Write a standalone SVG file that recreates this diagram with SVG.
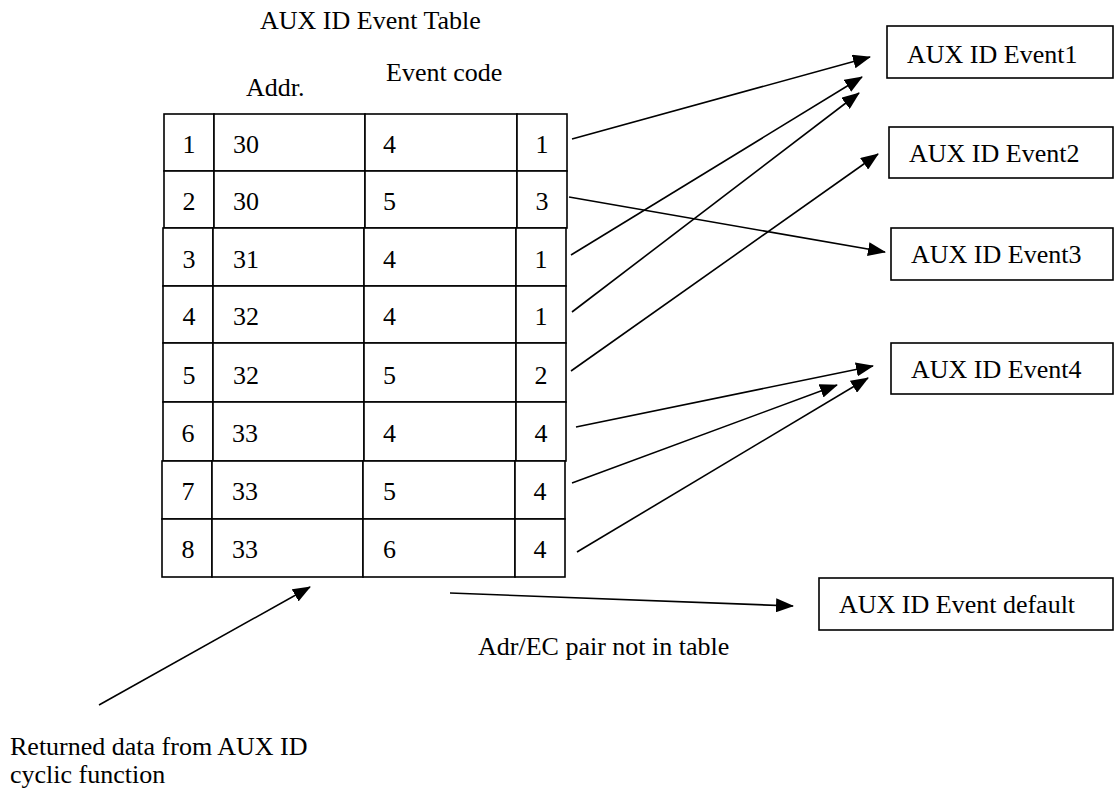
<svg xmlns="http://www.w3.org/2000/svg" width="1115" height="791" viewBox="0 0 1115 791" font-family="'Liberation Serif', 'DejaVu Serif', 'Times New Roman', serif">
  <style>
    text { font-family: 'Liberation Serif', 'DejaVu Serif', 'Times New Roman', serif; font-size: 26px; fill: #000; }
    .cell { fill: #fff; stroke: #000; stroke-width: 1.6; }
    .box { fill: #fff; stroke: #000; stroke-width: 1.6; }
    .mid { text-anchor: middle; }
    .conn line { stroke: #000; stroke-width: 1.6; marker-end: url(#head); }
  </style>
  <defs>
    <marker id="head" markerUnits="userSpaceOnUse" markerWidth="18" markerHeight="14" refX="17" refY="7" orient="auto">
      <path d="M0,0 L18,7 L0,14 Z" fill="#000"/>
    </marker>
  </defs>
  <rect width="1115" height="791" fill="#fff"/>

  <!-- table headings -->
  <g id="table-title">
    <text x="260" y="29">AUX ID Event Table</text>
  </g>
  <g id="col-headers">
    <text x="246" y="96">Addr.</text>
    <text x="386" y="81">Event code</text>
  </g>

  <!-- AUX ID event table: index, address, event code, event id -->
  <g id="event-table">
    <g id="row1">
      <rect class="cell" x="164" y="114" width="50" height="57"/>
      <rect class="cell" x="214" y="114" width="151" height="57"/>
      <rect class="cell" x="365" y="114" width="152" height="57"/>
      <rect class="cell" x="517" y="114" width="50" height="57"/>
      <text class="mid" x="189" y="153">1</text>
      <text x="233" y="153">30</text>
      <text x="383" y="153">4</text>
      <text class="mid" x="542" y="153">1</text>
    </g>
    <g id="row2">
      <rect class="cell" x="164" y="171" width="50" height="57"/>
      <rect class="cell" x="214" y="171" width="151" height="57"/>
      <rect class="cell" x="365" y="171" width="152" height="57"/>
      <rect class="cell" x="517" y="171" width="50" height="57"/>
      <text class="mid" x="189" y="210">2</text>
      <text x="233" y="210">30</text>
      <text x="383" y="210">5</text>
      <text class="mid" x="542" y="210">3</text>
    </g>
    <g id="row3">
      <rect class="cell" x="163" y="228" width="50" height="58"/>
      <rect class="cell" x="213" y="228" width="151" height="58"/>
      <rect class="cell" x="364" y="228" width="152" height="58"/>
      <rect class="cell" x="516" y="228" width="50" height="58"/>
      <text class="mid" x="189" y="268">3</text>
      <text x="233" y="268">31</text>
      <text x="383" y="268">4</text>
      <text class="mid" x="541" y="268">1</text>
    </g>
    <g id="row4">
      <rect class="cell" x="163" y="286" width="50" height="57"/>
      <rect class="cell" x="213" y="286" width="151" height="57"/>
      <rect class="cell" x="364" y="286" width="152" height="57"/>
      <rect class="cell" x="516" y="286" width="50" height="57"/>
      <text class="mid" x="189" y="325">4</text>
      <text x="233" y="325">32</text>
      <text x="383" y="325">4</text>
      <text class="mid" x="541" y="325">1</text>
    </g>
    <g id="row5">
      <rect class="cell" x="163" y="343" width="50" height="59"/>
      <rect class="cell" x="213" y="343" width="151" height="59"/>
      <rect class="cell" x="364" y="343" width="152" height="59"/>
      <rect class="cell" x="516" y="343" width="50" height="59"/>
      <text class="mid" x="189" y="384">5</text>
      <text x="233" y="384">32</text>
      <text x="383" y="384">5</text>
      <text class="mid" x="541" y="384">2</text>
    </g>
    <g id="row6">
      <rect class="cell" x="163" y="402" width="50" height="59"/>
      <rect class="cell" x="213" y="402" width="151" height="59"/>
      <rect class="cell" x="364" y="402" width="152" height="59"/>
      <rect class="cell" x="516" y="402" width="50" height="59"/>
      <text class="mid" x="188" y="442">6</text>
      <text x="232" y="442">33</text>
      <text x="383" y="442">4</text>
      <text class="mid" x="541" y="442">4</text>
    </g>
    <g id="row7">
      <rect class="cell" x="162" y="461" width="50" height="58"/>
      <rect class="cell" x="212" y="461" width="151" height="58"/>
      <rect class="cell" x="363" y="461" width="152" height="58"/>
      <rect class="cell" x="515" y="461" width="50" height="58"/>
      <text class="mid" x="188" y="500">7</text>
      <text x="232" y="500">33</text>
      <text x="383" y="500">5</text>
      <text class="mid" x="540" y="500">4</text>
    </g>
    <g id="row8">
      <rect class="cell" x="162" y="519" width="50" height="58"/>
      <rect class="cell" x="212" y="519" width="151" height="58"/>
      <rect class="cell" x="363" y="519" width="152" height="58"/>
      <rect class="cell" x="515" y="519" width="50" height="58"/>
      <text class="mid" x="188" y="558">8</text>
      <text x="232" y="558">33</text>
      <text x="383" y="558">6</text>
      <text class="mid" x="540" y="558">4</text>
    </g>
  </g>

  <!-- event boxes -->
  <g id="event1">
    <rect class="box" x="887" y="26" width="226" height="52"/>
    <text x="907" y="63">AUX ID Event1</text>
  </g>
  <g id="event2">
    <rect class="box" x="889" y="127" width="224" height="51"/>
    <text x="909" y="162">AUX ID Event2</text>
  </g>
  <g id="event3">
    <rect class="box" x="891" y="228" width="222" height="52"/>
    <text x="911" y="263">AUX ID Event3</text>
  </g>
  <g id="event4">
    <rect class="box" x="891" y="343" width="222" height="51"/>
    <text x="911" y="378">AUX ID Event4</text>
  </g>
  <g id="event-default">
    <rect class="box" x="819" y="578" width="294" height="52"/>
    <text x="839" y="613">AUX ID Event default</text>
  </g>

  <!-- free labels -->
  <g id="label-not-in-table">
    <text x="478" y="655">Adr/EC pair not in table</text>
  </g>
  <g id="label-returned-data">
    <text x="10" y="755">Returned data from AUX ID</text>
    <text x="10" y="783">cyclic function</text>
  </g>

  <!-- connectors -->
  <g id="connectors" class="conn">
    <line x1="572" y1="139" x2="870" y2="57"/>
    <line x1="571" y1="255" x2="862" y2="77"/>
    <line x1="572" y1="312" x2="859" y2="93"/>
    <line x1="571" y1="371" x2="878" y2="154"/>
    <line x1="569" y1="197" x2="885" y2="252"/>
    <line x1="576" y1="427" x2="873" y2="366"/>
    <line x1="572" y1="483" x2="837" y2="385"/>
    <line x1="577" y1="552" x2="868" y2="378"/>
    <line x1="450" y1="593" x2="793" y2="606"/>
    <line x1="99" y1="705" x2="310" y2="587"/>
  </g>
</svg>
